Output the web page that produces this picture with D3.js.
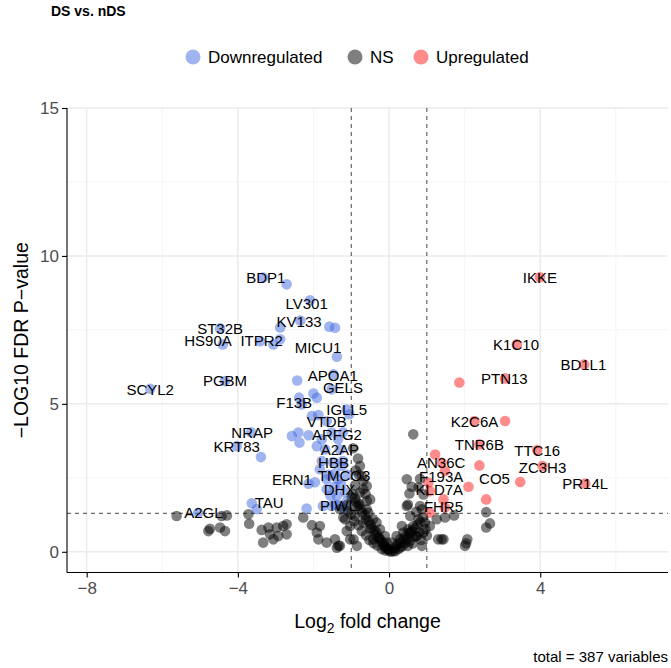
<!DOCTYPE html>
<html>
<head>
<meta charset="utf-8">
<script src="https://cdn.jsdelivr.net/npm/d3@7"></script>
<style>
  body { margin: 0; background: #fff; }
  text { font-family: "Liberation Sans", Arial, sans-serif; }
</style>
</head>
<body>
<div id="chart"></div>
<script>
// categories + legend
const groups = ["Downregulated", "NS", "Upregulated"];
const groupColors = ["#4169e1", "#000000", "#ff1a1a"];

// tick values
const xMajor = [-8, -4, 0, 4];
const xMinor = [-6, -2, 2, 6];
const yMajor = [0, 5, 10, 15];
const yMinor = [2.5, 7.5, 12.5];

// cutoffs
const fcCut = [-1, 1];
const pCut = 1.301;

// [log2FC, -log10 FDR]
const downPoints = [
  [-3.33, 9.27], [-2.71, 9.04], [-2.09, 8.50], [-2.35, 7.82], [-2.88, 7.58], [-1.58, 7.61],
  [-1.43, 7.57], [-4.47, 7.55], [-4.40, 7.01], [-3.41, 7.12], [-3.06, 7.01], [-2.88, 7.18],
  [-1.38, 6.59], [-2.43, 5.79], [-1.47, 6.00], [-4.34, 5.77], [-6.32, 5.51], [-2.00, 5.35],
  [-1.91, 5.21], [-1.52, 5.49], [-2.38, 5.21], [-2.31, 4.98], [-1.12, 4.81], [-1.05, 4.65],
  [-2.04, 4.59], [-1.87, 4.62], [-1.65, 4.41], [-3.65, 4.04], [-4.03, 3.57], [-3.39, 3.20],
  [-2.57, 3.91], [-2.40, 4.03], [-2.37, 3.69], [-2.13, 3.94], [-1.91, 3.57], [-1.78, 3.80],
  [-1.52, 4.03], [-1.35, 3.80], [-1.22, 4.04], [-1.69, 3.46], [-1.30, 3.46], [-1.78, 3.07],
  [-1.22, 3.07], [-1.83, 2.79], [-1.65, 2.45], [-2.13, 2.30], [-1.96, 2.35], [-1.65, 2.11],
  [-1.38, 1.89], [-3.63, 1.64], [-3.50, 1.44], [-2.18, 1.46], [-1.75, 1.55], [-1.52, 1.55],
  [-1.30, 1.57], [-5.05, 1.32], [-1.48, 3.03], [-1.43, 2.65], [-1.16, 2.01], [-1.11, 1.71],
  [-1.27, 2.28], [-1.20, 1.45], [-1.10, 2.60], [-1.45, 2.20], [-1.55, 1.90], [-1.42, 1.60],
  [-1.60, 2.60], [-1.25, 2.90], [-1.35, 2.45]
];

const upPoints = [
  [3.99, 9.28], [3.38, 7.01], [5.16, 6.33], [3.07, 5.86], [1.86, 5.72], [2.26, 4.42],
  [3.07, 4.42], [2.39, 3.63], [3.92, 3.44], [1.22, 3.29], [1.39, 3.01], [2.39, 2.92],
  [4.06, 2.90], [1.48, 2.73], [1.04, 2.34], [3.47, 2.36], [5.19, 2.31], [2.10, 2.20],
  [1.08, 2.05], [1.44, 1.77], [2.57, 1.77], [1.08, 1.32], [1.48, 1.50]
];

const nsPoints = [
  [-5.62, 1.21], [-4.43, 1.21], [-4.29, 1.23], [-4.78, 0.70], [-4.74, 0.78], [-4.47, 0.82],
  [-4.34, 0.70], [-3.72, 1.27], [-3.70, 0.95], [-3.37, 0.74], [-3.19, 0.82], [-3.15, 0.59],
  [-3.33, 0.31], [-3.06, 0.42], [-2.93, 0.53], [-2.97, 0.82], [-2.71, 0.93], [-2.71, 0.59],
  [-2.80, 0.87], [-2.27, 1.16], [-2.04, 0.90], [-1.83, 0.87], [-1.91, 0.65], [-1.87, 0.42],
  [-1.65, 0.31], [-1.43, 0.42], [-1.38, 0.14], [-1.30, 0.20], [-1.21, 1.16], [-1.12, 0.70],
  [-0.94, 0.42], [-0.85, 0.20],
  [-0.95, 3.50], [-0.77, 2.90], [-0.72, 2.56], [-0.59, 2.22], [-0.77, 2.00], [-0.50, 1.77],
  [-0.85, 1.55], [-0.59, 1.44], [-0.98, 1.84], [-1.08, 1.37], [-0.88, 2.75], [-0.82, 3.15],
  [-0.68, 2.40], [-0.62, 1.95], [-0.90, 2.25], [-0.80, 2.60],
  [-1.30, 1.44], [-1.16, 1.10], [-1.03, 0.87], [-0.90, 1.21], [-0.81, 1.55], [-0.68, 2.11],
  [-0.59, 1.72], [-0.55, 1.32], [-0.68, 0.99], [-0.50, 0.76], [-0.42, 1.10], [-0.33, 0.65],
  [-0.24, 0.42], [-0.15, 0.20], [-0.02, 0.08], [0.11, 0.03], [0.20, 0.20], [0.29, 0.42],
  [0.38, 0.65], [0.51, 0.76], [0.64, 0.87], [0.34, 0.87], [0.20, 0.53], [0.07, 0.31],
  [-0.06, 0.31], [-0.11, 0.53], [-0.24, 0.76], [-0.33, 0.99], [-0.42, 0.42], [-1.03, 0.42],
  [-1.34, 0.20], [0.56, 1.21], [0.78, 1.10], [0.87, 1.44], [0.95, 0.99], [0.47, 0.42],
  [0.73, 0.53], [0.91, 0.65], [1.08, 0.87], [1.30, 0.42],
  [-0.95, 1.95], [-0.90, 1.80], [-0.86, 1.68], [-0.79, 1.62], [-0.75, 1.45], [-0.71, 1.33],
  [-0.64, 1.24], [-0.61, 1.10], [-0.54, 1.03], [-0.49, 0.92], [-0.46, 0.80], [-0.39, 0.73],
  [-0.36, 0.58], [-0.29, 0.50], [-0.26, 0.46], [-0.19, 0.34], [-0.14, 0.27], [-0.09, 0.17],
  [-0.04, 0.10], [0.01, 0.04], [-1.10, 1.60], [-1.00, 1.28], [-0.92, 1.04], [-0.81, 0.90],
  [-0.72, 0.70], [-0.61, 0.56], [-0.52, 0.40], [-0.41, 0.29], [-0.31, 0.21], [-0.19, 0.09],
  [-0.09, 0.04], [0.05, 0.00], [0.16, 0.02], [0.25, 0.09], [0.36, 0.19],
  [0.15, 0.12], [0.22, 0.26], [0.31, 0.31], [0.39, 0.43], [0.45, 0.55], [0.53, 0.63],
  [0.60, 0.71], [0.68, 0.79], [0.75, 0.92], [0.83, 1.01], [0.90, 1.16], [0.42, 0.30],
  [0.55, 0.36], [0.65, 0.50], [0.80, 0.66], [0.96, 0.76], [0.30, 0.15], [0.50, 0.20],
  [0.62, 0.28], [0.85, 0.40], [1.00, 0.55],
  [0.64, 3.97], [0.47, 2.45], [0.60, 2.20], [0.54, 1.97], [0.82, 2.47], [0.78, 2.17],
  [0.91, 1.94], [0.47, 1.55], [0.82, 1.55], [1.26, 1.10], [1.48, 1.16], [1.72, 1.23],
  [2.57, 1.34], [2.67, 0.96], [2.57, 0.82], [1.39, 0.42], [2.07, 0.42], [2.01, 0.20],
  [2.04, 0.29], [0.87, 0.20], [0.56, 0.65], [0.73, 0.53], [1.44, 0.42], [0.50, 1.60],
  [0.72, 1.35]
];

// gene labels (repelled label anchor, data units)
const labelNames = ["BDP1", "LV301", "KV133", "ST32B", "HS90A", "ITPR2", "MICU1", "APOA1",
  "PGBM", "SCYL2", "GELS", "F13B", "IGLL5", "VTDB", "NRAP", "KRT83", "ARFG2", "A2AP", "HBB",
  "TMCO3", "ERN1", "DHX", "TAU", "PIWL", "A2GL",
  "IKKE", "K1C10", "BD1L1", "PTN13", "K2C6A", "TNR6B", "TTC16", "AN36C", "ZC3H3", "F193A",
  "CO5", "PR14L", "KLD7A", "FHR5"];
const labelX = [-3.26, -2.18, -2.38, -4.47, -4.79, -3.37, -1.88, -1.49,
  -4.34, -6.32, -1.22, -2.51, -1.12, -1.65, -3.62, -4.03, -1.38, -1.30, -1.47,
  -1.19, -2.57, -1.31, -3.17, -1.34, -4.91,
  3.99, 3.36, 5.14, 3.05, 2.26, 2.39, 3.92, 1.38, 4.06, 1.38,
  2.79, 5.19, 1.33, 1.44];
const labelY = [9.28, 8.40, 7.80, 7.55, 7.15, 7.15, 6.91, 5.97,
  5.80, 5.49, 5.56, 5.04, 4.81, 4.41, 4.03, 3.55, 3.97, 3.46, 3.03,
  2.58, 2.45, 2.09, 1.66, 1.57, 1.32,
  9.28, 6.99, 6.33, 5.86, 4.40, 3.63, 3.43, 3.03, 2.86, 2.56,
  2.49, 2.31, 2.11, 1.53];

const w = 671, h = 668;
const pLeft = 67, pRight = 668, pTop = 108, pBottom = 572.5;

const svg = d3.select("#chart").append("svg")
  .attr("width", w).attr("height", h);

const xScale = d3.scaleLinear().domain([-8.52, 7.38]).range([pLeft, pRight]);
const yScale = d3.scaleLinear().domain([-0.7, 15]).range([pBottom, pTop]);

// grid
const grid = svg.append("g");
grid.selectAll(".xmin").data(xMinor).enter().append("line")
  .attr("x1", d => xScale(d)).attr("x2", d => xScale(d))
  .attr("y1", pTop).attr("y2", pBottom)
  .attr("stroke", "#f2f2f2").attr("stroke-width", 0.8);
grid.selectAll(".ymin").data(yMinor).enter().append("line")
  .attr("x1", pLeft).attr("x2", pRight)
  .attr("y1", d => yScale(d)).attr("y2", d => yScale(d))
  .attr("stroke", "#f2f2f2").attr("stroke-width", 0.8);
grid.selectAll(".xmaj").data(xMajor).enter().append("line")
  .attr("x1", d => xScale(d)).attr("x2", d => xScale(d))
  .attr("y1", pTop).attr("y2", pBottom)
  .attr("stroke", "#ebebeb").attr("stroke-width", 1.5);
grid.selectAll(".ymaj").data(yMajor).enter().append("line")
  .attr("x1", pLeft).attr("x2", pRight)
  .attr("y1", d => yScale(d)).attr("y2", d => yScale(d))
  .attr("stroke", "#ebebeb").attr("stroke-width", 1.5);

// cutoff lines
svg.selectAll(".vcut").data(fcCut).enter().append("line")
  .attr("x1", d => xScale(d)).attr("x2", d => xScale(d))
  .attr("y1", pTop).attr("y2", pBottom)
  .attr("stroke", "#444").attr("stroke-width", 1).attr("stroke-dasharray", "4,4");
svg.append("line")
  .attr("x1", pLeft).attr("x2", pRight)
  .attr("y1", yScale(pCut)).attr("y2", yScale(pCut))
  .attr("stroke", "#444").attr("stroke-width", 1).attr("stroke-dasharray", "4,4");

const r = 5.3;
const drawPoints = (pts, color) => {
  svg.append("g").selectAll("circle").data(pts).enter().append("circle")
    .attr("cx", d => xScale(d[0]))
    .attr("cy", d => yScale(d[1]))
    .attr("r", r)
    .attr("fill", color)
    .attr("fill-opacity", 0.5);
};

drawPoints(downPoints, groupColors[0]);
drawPoints(upPoints, groupColors[2]);

// labels
svg.append("g").selectAll("text").data(labelNames).enter().append("text")
  .attr("x", (d, i) => xScale(labelX[i]))
  .attr("y", (d, i) => yScale(labelY[i]))
  .attr("text-anchor", "middle")
  .attr("dominant-baseline", "central")
  .attr("font-size", 15)
  .attr("fill", "#000")
  .text(d => d);

drawPoints(nsPoints, groupColors[1]);

// axes
const xAxis = d3.axisBottom(xScale).tickValues(xMajor).tickSize(5).tickPadding(4)
  .tickFormat(d => d < 0 ? "\u2212" + Math.abs(d) : d);
const yAxis = d3.axisLeft(yScale).tickValues(yMajor).tickSize(5).tickPadding(3);

const gx = svg.append("g").attr("transform", `translate(0,${pBottom})`).call(xAxis);
const gy = svg.append("g").attr("transform", `translate(${pLeft},0)`).call(yAxis);
[gx, gy].forEach(g => {
  g.select(".domain").attr("stroke", "#000").attr("stroke-width", 1.1);
  g.selectAll(".tick line").attr("stroke", "#000").attr("stroke-width", 1.1);
  g.selectAll(".tick text").attr("fill", "#4d4d4d").attr("font-size", 17)
    .attr("font-family", "Liberation Sans, Arial, sans-serif");
});
gx.select(".domain").attr("d", `M${pLeft},0H${pRight}`);
gy.select(".domain").attr("d", `M0,${pTop}V${pBottom}`);

// axis titles
const xt = svg.append("text")
  .attr("x", (pLeft + pRight) / 2).attr("y", 628)
  .attr("text-anchor", "middle").attr("font-size", 19.5);
xt.append("tspan").text("Log");
xt.append("tspan").attr("font-size", 14).attr("dy", 5).text("2");
xt.append("tspan").attr("dy", -5).text(" fold change");

svg.append("text")
  .attr("transform", `translate(28,${(pTop + pBottom) / 2}) rotate(-90)`)
  .attr("text-anchor", "middle").attr("font-size", 19.5)
  .text("\u2212LOG10 FDR P\u2212value");

// title
svg.append("text").attr("x", 51).attr("y", 16)
  .attr("font-size", 14).attr("font-weight", "bold").text("DS vs. nDS");

// caption
svg.append("text").attr("x", 668).attr("y", 662)
  .attr("text-anchor", "end").attr("font-size", 15)
  .text("total = 387 variables");

// legend
const legendX = [193, 355, 421];
const legend = svg.append("g");
groups.forEach((g, i) => {
  legend.append("circle").attr("cx", legendX[i]).attr("cy", 57).attr("r", 7.5)
    .attr("fill", groupColors[i]).attr("fill-opacity", 0.5);
  legend.append("text").attr("x", legendX[i] + 15).attr("y", 57)
    .attr("dominant-baseline", "central").attr("font-size", 17).text(g);
});
</script>
</body>
</html>
